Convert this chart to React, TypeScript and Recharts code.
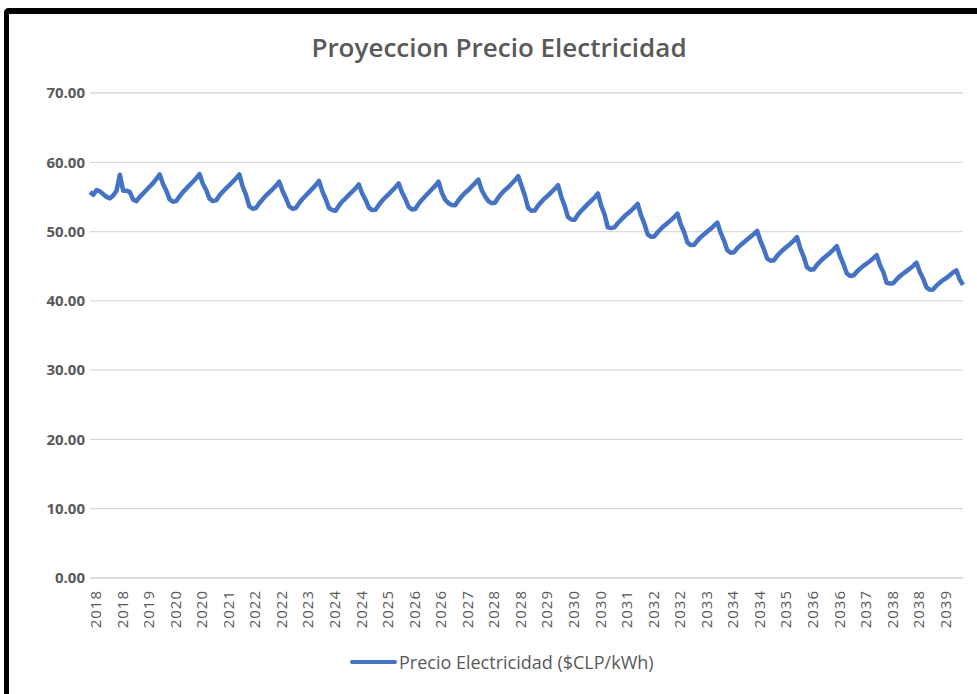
import React from "react";
import { LineChart, Line, XAxis, YAxis, CartesianGrid } from "recharts";

const years = [2018, 2019, 2020, 2021, 2022, 2023, 2024, 2025, 2026, 2027, 2028, 2029, 2030, 2031, 2032, 2033, 2034, 2035, 2036, 2037, 2038, 2039];

const prices = [
  // 2018
  55.7, 55.3, 56.0, 55.8, 55.4, 55.0, 54.8, 55.2, 55.9, 58.2, 55.9, 55.9,
  // 2019
  55.7, 54.6, 54.4, 55.0, 55.5, 56.0, 56.5, 57.0, 57.6, 58.25, 56.87, 55.88,
  // 2020
  54.65, 54.3, 54.4, 55.1, 55.7, 56.2, 56.7, 57.2, 57.7, 58.3, 56.9, 56.0,
  // 2021
  54.75, 54.4, 54.5, 55.2, 55.75, 56.25, 56.7, 57.2, 57.7, 58.25, 56.5, 55.3,
  // 2022
  53.65, 53.3, 53.4, 54.1, 54.65, 55.2, 55.65, 56.1, 56.6, 57.2, 55.85, 54.85,
  // 2023
  53.65, 53.3, 53.4, 54.1, 54.7, 55.2, 55.7, 56.2, 56.7, 57.3, 55.8, 54.7,
  // 2024
  53.4, 53.1, 53.0, 53.75, 54.35, 54.8, 55.3, 55.75, 56.25, 56.8, 55.5, 54.6,
  // 2025
  53.45, 53.1, 53.15, 53.85, 54.45, 54.95, 55.4, 55.9, 56.4, 56.95, 55.65, 54.7,
  // 2026
  53.55, 53.2, 53.25, 54.0, 54.6, 55.1, 55.6, 56.1, 56.6, 57.2, 55.6, 54.6,
  // 2027
  54.1, 53.85, 53.8, 54.5, 55.1, 55.6, 56.0, 56.5, 57.0, 57.5, 56.0, 55.1,
  // 2028
  54.4, 54.1, 54.15, 54.9, 55.5, 56.0, 56.4, 56.9, 57.4, 58.0, 56.6, 55.2,
  // 2029
  53.4, 53.0, 53.05, 53.75, 54.3, 54.8, 55.2, 55.7, 56.15, 56.7, 55.0, 53.7,
  // 2030
  52.1, 51.75, 51.7, 52.45, 53.0, 53.5, 54.0, 54.45, 54.9, 55.5, 53.75, 52.5,
  // 2031
  50.6, 50.5, 50.6, 51.2, 51.7, 52.2, 52.6, 53.0, 53.5, 54.0, 52.35, 51.15,
  // 2032
  49.6, 49.25, 49.3, 49.9, 50.4, 50.85, 51.25, 51.65, 52.1, 52.6, 51.0, 49.9,
  // 2033
  48.4, 48.05, 48.1, 48.7, 49.2, 49.6, 50.0, 50.4, 50.85, 51.3, 49.8, 48.7,
  // 2034
  47.3, 46.95, 47.0, 47.6, 48.05, 48.45, 48.85, 49.25, 49.65, 50.1, 48.6, 47.5,
  // 2035
  46.1, 45.8, 45.85, 46.5, 47.0, 47.45, 47.85, 48.25, 48.7, 49.2, 47.55, 46.4,
  // 2036
  44.85, 44.5, 44.55, 45.2, 45.7, 46.15, 46.55, 46.95, 47.4, 47.9, 46.4, 45.3,
  // 2037
  43.95, 43.6, 43.65, 44.2, 44.65, 45.05, 45.4, 45.75, 46.15, 46.6, 45.15, 44.15,
  // 2038
  42.6, 42.5, 42.55, 43.1, 43.55, 43.95, 44.3, 44.65, 45.05, 45.5, 44.15, 43.2,
  // 2039
  41.95, 41.6, 41.65, 42.2, 42.6, 43.0, 43.3, 43.7, 44.1, 44.4, 43.1, 42.3,
];

// month indices that carry a year label (every 8th month)
const xTickIdx = [0, 8, 16, 24, 32, 40, 48, 56, 64, 72, 80, 88, 96, 104, 112, 120, 128, 136, 144, 152, 160, 168, 176, 184, 192, 200, 208, 216, 224, 232, 240, 248, 256];
const yTicks = [0, 10, 20, 30, 40, 50, 60, 70];
const title = "Proyeccion Precio Electricidad";
const seriesName = "Precio Electricidad ($CLP/kWh)";

const data = prices.map((v, i) => ({ idx: i, value: v }));

const GRAY = "#595959";
const BLUE = "#4472C4";
const FONT = "'Open Sans', sans-serif";

const XTick = (props: any) => {
  const { x, y, payload } = props;
  const label = String(years[Math.floor(payload.value / 12)]);
  return (
    <text
      x={x + 5}
      y={y}
      transform={`rotate(-90, ${x + 5}, ${y})`}
      textAnchor="end"
      dominantBaseline="central"
      fill={GRAY}
      fontSize={15}
      fontFamily={FONT}
      letterSpacing={1}
    >
      {label}
    </text>
  );
};

export default function App() {
  return (
    <div
      style={{
        position: "absolute",
        left: 0,
        top: 0,
        width: 977,
        height: 694,
        background: "#fff",
        overflow: "hidden",
      }}
    >
      <div
        style={{
          position: "absolute",
          left: 4,
          top: 8,
          width: 1000,
          height: 720,
          borderTop: "6px solid #000",
          borderLeft: "5px solid #000",
          borderTopLeftRadius: 5,
          boxSizing: "border-box",
        }}
      />
      <div
        style={{
          position: "absolute",
          left: 0,
          width: 998,
          top: 29,
          textAlign: "center",
          fontFamily: FONT,
          fontWeight: 600,
          fontSize: 26,
          color: GRAY,
        }}
      >
        {title}
      </div>
      <div style={{ position: "absolute", left: 0, top: 0 }}>
        <LineChart
          width={977}
          height={694}
          data={data}
          margin={{ top: 93, right: 14, bottom: 0, left: 10 }}
        >
          <CartesianGrid vertical={false} stroke="#D9D9D9" strokeWidth={1.3} />
          <XAxis
            dataKey="idx"
            type="number"
            domain={[0, prices.length - 1]}
            ticks={xTickIdx}
            interval={0}
            height={116}
            tickSize={0}
            tickMargin={12}
            tickLine={false}
            axisLine={{ stroke: "#D9D9D9", strokeWidth: 1.3 }}
            tick={<XTick />}
          />
          <YAxis
            width={80}
            domain={[0, 70]}
            ticks={yTicks}
            tickFormatter={(v: number) => v.toFixed(2)}
            tickSize={0}
            tickMargin={5}
            tickLine={false}
            axisLine={false}
            tick={{ fill: GRAY, fontSize: 15, fontWeight: 700, fontFamily: FONT }}
          />
          <Line
            type="linear"
            dataKey="value"
            name={seriesName}
            stroke={BLUE}
            strokeWidth={4.5}
            strokeLinejoin="round"
            dot={false}
            isAnimationActive={false}
          />
        </LineChart>
      </div>
      <div
        style={{
          position: "absolute",
          left: 350,
          top: 650,
          display: "flex",
          alignItems: "center",
          fontFamily: FONT,
          fontSize: 18,
          color: GRAY,
        }}
      >
        <span
          style={{
            display: "inline-block",
            width: 47,
            height: 4,
            background: BLUE,
            borderRadius: 2,
            marginRight: 2,
          }}
        />
        <span>{seriesName}</span>
      </div>
    </div>
  );
}
